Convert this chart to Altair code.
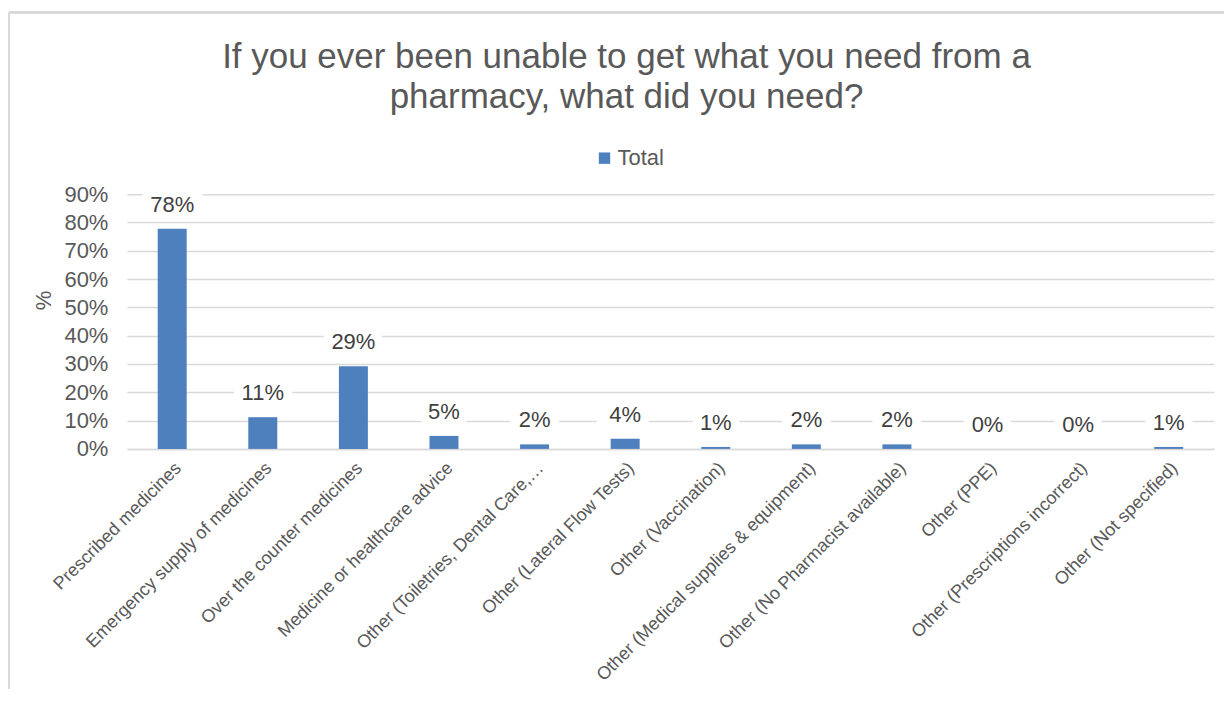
import altair as alt
import pandas as pd

categories = [
    "Prescribed medicines",
    "Emergency supply of medicines",
    "Over the counter medicines",
    "Medicine or healthcare advice",
    "Other (Toiletries, Dental Care,…",
    "Other (Lateral Flow Tests)",
    "Other (Vaccination)",
    "Other (Medical supplies & equipment)",
    "Other (No Pharmacist available)",
    "Other (PPE)",
    "Other (Prescriptions incorrect)",
    "Other (Not specified)",
]
values = [0.778, 0.112, 0.292, 0.046, 0.016, 0.036, 0.007, 0.016, 0.016, 0.0, 0.0, 0.007]
series = ["Total"] * len(categories)

df = pd.DataFrame({"category": categories, "value": values, "series": series})

FONT = "Liberation Sans"
GRAY = "#595959"
BLUE = "#4E80BD"

x = alt.X(
    "category:N",
    sort=categories,
    scale=alt.Scale(paddingInner=0.68, paddingOuter=0.34),
    axis=alt.Axis(
        title=None,
        labelAngle=-45,
        labelFontSize=18,
        labelColor=GRAY,
        labelFont=FONT,
        labelLimit=500,
        ticks=False,
        domain=True,
        domainColor="#d9d9d9",
        domainWidth=1.5,
        labelPadding=10,
    ),
)
y = alt.Y(
    "value:Q",
    scale=alt.Scale(domain=[0, 0.9]),
    axis=alt.Axis(
        title="%",
        format=".0%",
        values=[i / 10 for i in range(10)],
        labelFontSize=22,
        labelColor=GRAY,
        labelFont=FONT,
        titleFont=FONT,
        titleFontSize=22,
        titleFontWeight="normal",
        titleColor=GRAY,
        titlePadding=8,
        titleY=106,
        labelPadding=19,
        ticks=False,
        domain=False,
        grid=True,
        gridColor="#d9d9d9",
        gridWidth=1.5,
    ),
)

base = alt.Chart(df)

bars = base.mark_bar(color=BLUE).encode(
    x=x,
    y=y,
    color=alt.Color(
        "series:N",
        scale=alt.Scale(range=[BLUE]),
        legend=alt.Legend(
            title=None,
            orient="none",
            legendX=467,
            legendY=-47,
            symbolType="square",
            symbolSize=130,
            labelOffset=2,
            labelFontSize=22,
            labelFont=FONT,
            labelColor=GRAY,
        ),
    ),
)

halo = base.mark_text(
    dy=-24, fontSize=22, font=FONT, stroke="white", strokeWidth=18, color="white"
).encode(x=x, y=y, text=alt.Text("value:Q", format=".0%"))

labels = base.mark_text(
    dy=-24, fontSize=22, font=FONT, color="#404040"
).encode(x=x, y=y, text=alt.Text("value:Q", format=".0%"))

frame_left = base.mark_rule(color="#d9d9d9", strokeWidth=2).encode(
    x=alt.value(-118), y=alt.value(-182), y2=alt.value(520)
)
frame_top = base.mark_rule(color="#d9d9d9", strokeWidth=2).encode(
    x=alt.value(-118), x2=alt.value(1110), y=alt.value(-182)
)

chart = (
    alt.layer(frame_left, frame_top, bars, halo, labels)
    .properties(
        width=1088,
        height=255,
        autosize=alt.AutoSizeParams(type="none"),
        padding={"left": 119, "top": 186, "right": 10, "bottom": 240},
        title=alt.TitleParams(
            text=["If you ever been unable to get what you need from a", "pharmacy, what did you need?"],
            font=FONT,
            fontSize=35,
            fontWeight="normal",
            color=GRAY,
            anchor="middle",
            dx=-44,
            lineHeight=40,
            offset=-104,
        ),
    )
    .configure_view(stroke=None)
)

chart.save("out.html", embed_options={"renderer": "svg", "actions": False})
